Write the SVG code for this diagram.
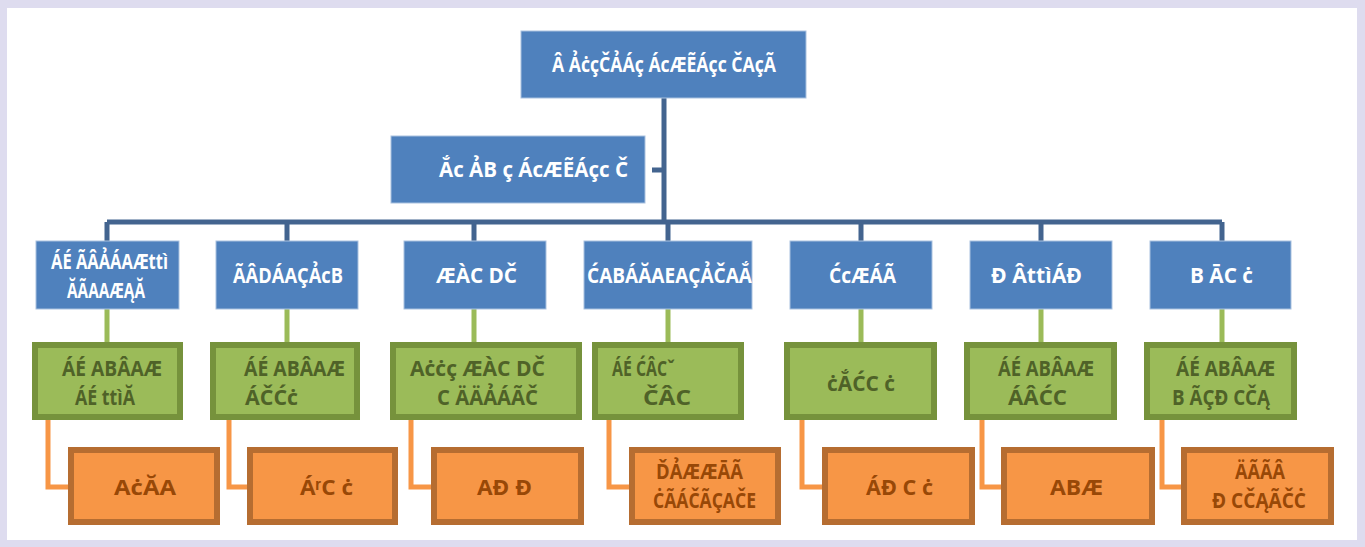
<svg xmlns="http://www.w3.org/2000/svg" width="1365" height="547" viewBox="0 0 1365 547">
  <style>
    .lvl1 { fill: #4f81bd; stroke: #a9c1df; stroke-width: 1; }
    .lvl2 { fill: #4f81bd; stroke: #a9c1df; stroke-width: 1; }
    .lvl3 { fill: #9bbb59; stroke: #76923c; stroke-width: 6; }
    .lvl4 { fill: #f79646; stroke: #b66d31; stroke-width: 6; }
    text { font-family: "Open Sans", "Liberation Sans", sans-serif; font-weight: bold; font-size: 22px; }
    .tw { fill: #ffffff; }
    .tg { fill: #4f6228; }
    .to { fill: #984807; }
    .blue { stroke: #43648f; stroke-width: 5; fill: none; }
    .green { stroke: #9bbb59; stroke-width: 5; fill: none; }
    .orange { stroke: #f79646; stroke-width: 5; fill: none; }
  </style>

  <!-- page frame -->
  <rect x="0" y="0" width="1365" height="547" fill="#dedcef"/>
  <rect x="7" y="8" width="1350" height="532" fill="#ffffff"/>

  <!-- connectors -->
  <g id="connectors">
    <path class="blue" d="M664 98 V222 M652 170 H664 M107 222 H1222 M107 222 V241 M287 222 V241 M474 222 V241 M668 222 V241 M861 222 V241 M1041 222 V241 M1222 222 V241"/>
    <path class="green" d="M107 309 V342 M287 309 V342 M474 309 V342 M668 309 V342 M861 309 V342 M1041 309 V342 M1222 309 V342"/>
    <path class="orange" d="M48 420 V487 H68 M229 420 V487 H247 M411 420 V487 H431 M609 420 V487 H629 M802 420 V487 H822 M982 420 V487 H1001 M1162 420 V487 H1181"/>
  </g>

  <!-- top -->
  <g id="root">
    <rect class="lvl1" x="521" y="31" width="285" height="67"/>
    <text class="tw" x="552" y="72" textLength="224" lengthAdjust="spacingAndGlyphs">Â ẢċçČẢÁç ÁcÆẼÁçc ČAçÃ</text>
  </g>
  <g id="assistant">
    <rect class="lvl1" x="391" y="136" width="254" height="67"/>
    <text class="tw" x="439" y="177" textLength="189" lengthAdjust="spacingAndGlyphs">Ắc ẢB ç ÁcÆẼÁçc Č</text>
  </g>

  <!-- second level -->
  <g id="dept1">
    <rect class="lvl2" x="36" y="241" width="143" height="68"/>
    <text class="tw" x="51" y="269" textLength="117" lengthAdjust="spacingAndGlyphs">ÁÉ ÃÂẢÁAÆttì</text>
    <text class="tw" x="67" y="298" textLength="78" lengthAdjust="spacingAndGlyphs">ĂÃAAÆĄĂ</text>
  </g>
  <g id="dept2">
    <rect class="lvl2" x="216" y="241" width="142" height="68"/>
    <text class="tw" x="233" y="283" textLength="110" lengthAdjust="spacingAndGlyphs">ÃÂDÁAÇẢcB</text>
  </g>
  <g id="dept3">
    <rect class="lvl2" x="404" y="241" width="142" height="68"/>
    <text class="tw" x="436" y="283" textLength="81" lengthAdjust="spacingAndGlyphs">ÆÀC DČ</text>
  </g>
  <g id="dept4">
    <rect class="lvl2" x="584" y="241" width="168" height="68"/>
    <text class="tw" x="587" y="283" textLength="165" lengthAdjust="spacingAndGlyphs">ĆABÁĂAEAÇẢČAẮ</text>
  </g>
  <g id="dept5">
    <rect class="lvl2" x="790" y="241" width="142" height="68"/>
    <text class="tw" x="829" y="283" textLength="67" lengthAdjust="spacingAndGlyphs">ĆcÆÁÃ</text>
  </g>
  <g id="dept6">
    <rect class="lvl2" x="970" y="241" width="142" height="68"/>
    <text class="tw" x="991" y="283" textLength="91" lengthAdjust="spacingAndGlyphs">Đ ÂttìÁĐ</text>
  </g>
  <g id="dept7">
    <rect class="lvl2" x="1150" y="241" width="141" height="68"/>
    <text class="tw" x="1190" y="283" textLength="63" lengthAdjust="spacingAndGlyphs">B ĀC ċ</text>
  </g>

  <!-- third level -->
  <g id="unit1">
    <rect class="lvl3" x="35" y="345" width="145" height="72"/>
    <text class="tg" x="62" y="376" textLength="100" lengthAdjust="spacingAndGlyphs">ÁÉ ABÂAÆ</text>
    <text class="tg" x="75" y="405" textLength="60" lengthAdjust="spacingAndGlyphs">ÁÉ ttìĂ</text>
  </g>
  <g id="unit2">
    <rect class="lvl3" x="213" y="345" width="144" height="72"/>
    <text class="tg" x="244" y="376" textLength="101" lengthAdjust="spacingAndGlyphs">ÁÉ ABÂAÆ</text>
    <text class="tg" x="245" y="405" textLength="53" lengthAdjust="spacingAndGlyphs">ÁČĆċ</text>
  </g>
  <g id="unit3">
    <rect class="lvl3" x="393" y="345" width="186" height="72"/>
    <text class="tg" x="410" y="376" textLength="135" lengthAdjust="spacingAndGlyphs">Aċċç ÆÀC DČ</text>
    <text class="tg" x="437" y="405" textLength="101" lengthAdjust="spacingAndGlyphs">C ÄÄẢÁÃČ</text>
  </g>
  <g id="unit4">
    <rect class="lvl3" x="595" y="345" width="146" height="72"/>
    <text class="tg" x="612" y="376" textLength="63" lengthAdjust="spacingAndGlyphs">ÁÉ ĆÂCˇ</text>
    <text class="tg" x="643" y="405" textLength="48" lengthAdjust="spacingAndGlyphs">ČÂC</text>
  </g>
  <g id="unit5">
    <rect class="lvl3" x="787" y="345" width="147" height="72"/>
    <text class="tg" x="827" y="391" textLength="68" lengthAdjust="spacingAndGlyphs">ċẮĆC ċ</text>
  </g>
  <g id="unit6">
    <rect class="lvl3" x="967" y="345" width="147" height="72"/>
    <text class="tg" x="998" y="376" textLength="96" lengthAdjust="spacingAndGlyphs">ÁÉ ABÂAÆ</text>
    <text class="tg" x="1008" y="405" textLength="59" lengthAdjust="spacingAndGlyphs">ÁÂĆC</text>
  </g>
  <g id="unit7">
    <rect class="lvl3" x="1147" y="345" width="147" height="72"/>
    <text class="tg" x="1176" y="376" textLength="99" lengthAdjust="spacingAndGlyphs">ÁÉ ABÂAÆ</text>
    <text class="tg" x="1172" y="405" textLength="98" lengthAdjust="spacingAndGlyphs">B ÃÇĐ CČĄ</text>
  </g>

  <!-- fourth level -->
  <g id="team1">
    <rect class="lvl4" x="71" y="450" width="146" height="72"/>
    <text class="to" x="114" y="495" textLength="62" lengthAdjust="spacingAndGlyphs">AċĂA</text>
  </g>
  <g id="team2">
    <rect class="lvl4" x="250" y="450" width="145" height="72"/>
    <text class="to" x="300" y="495" textLength="53" lengthAdjust="spacingAndGlyphs">ÁʳC ċ</text>
  </g>
  <g id="team3">
    <rect class="lvl4" x="434" y="450" width="147" height="72"/>
    <text class="to" x="477" y="495" textLength="55" lengthAdjust="spacingAndGlyphs">AĐ Đ</text>
  </g>
  <g id="team4">
    <rect class="lvl4" x="632" y="450" width="146" height="72"/>
    <text class="to" x="656" y="479" textLength="87" lengthAdjust="spacingAndGlyphs">ĎẢÆÆĀÃ</text>
    <text class="to" x="653" y="508" textLength="103" lengthAdjust="spacingAndGlyphs">ĊÃÁČÃÇAČE</text>
  </g>
  <g id="team5">
    <rect class="lvl4" x="825" y="450" width="147" height="72"/>
    <text class="to" x="866" y="495" textLength="67" lengthAdjust="spacingAndGlyphs">ÁĐ C ċ</text>
  </g>
  <g id="team6">
    <rect class="lvl4" x="1004" y="450" width="148" height="72"/>
    <text class="to" x="1050" y="495" textLength="53" lengthAdjust="spacingAndGlyphs">ABÆ</text>
  </g>
  <g id="team7">
    <rect class="lvl4" x="1184" y="450" width="147" height="72"/>
    <text class="to" x="1235" y="479" textLength="50" lengthAdjust="spacingAndGlyphs">ÄÃÃÂ</text>
    <text class="to" x="1212" y="508" textLength="94" lengthAdjust="spacingAndGlyphs">Đ CČĄÃČĊ</text>
  </g>
</svg>
